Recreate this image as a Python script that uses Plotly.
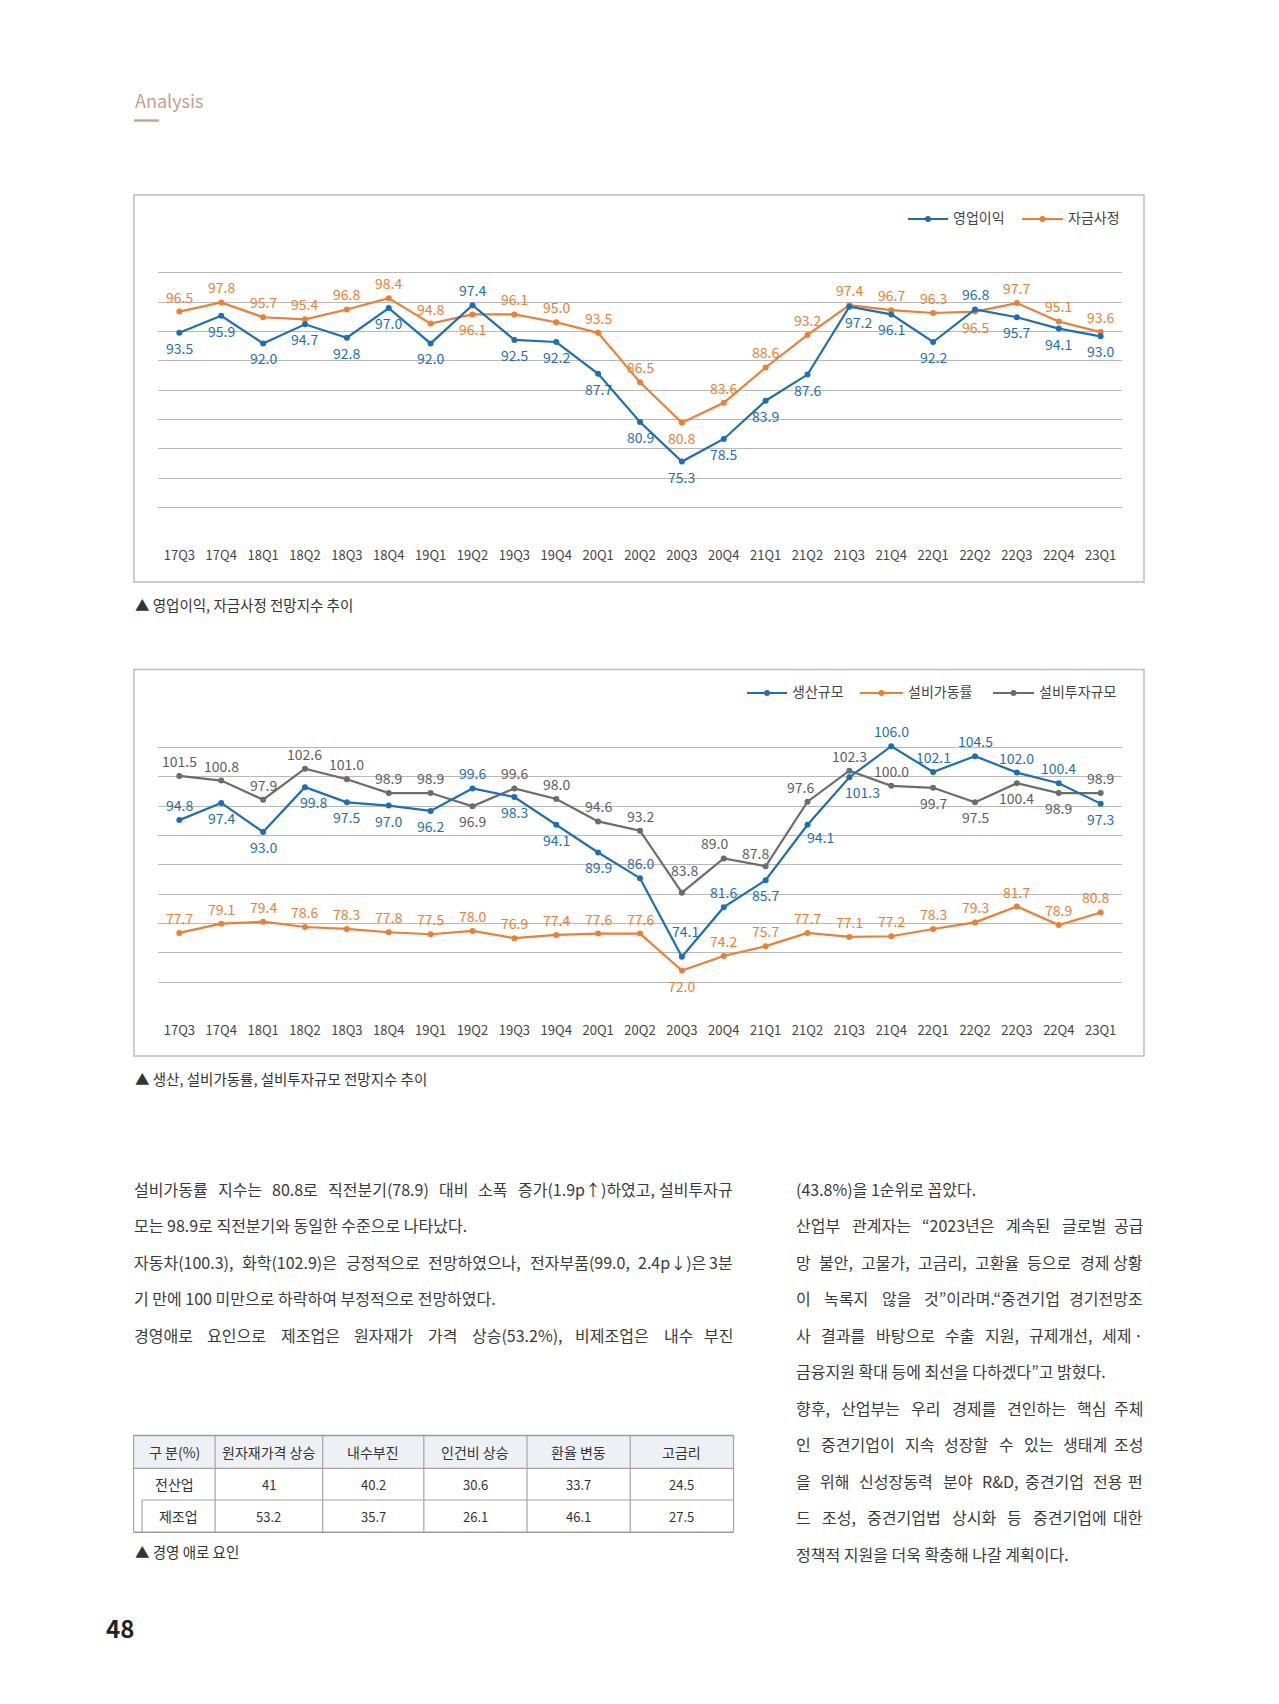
import plotly.graph_objects as go
import numpy as np

W, H = 1279, 1704
FONT = "Noto Sans CJK KR"

# ---------------- data ----------------
quarters = ["17Q3", "17Q4", "18Q1", "18Q2", "18Q3", "18Q4", "19Q1", "19Q2", "19Q3", "19Q4",
            "20Q1", "20Q2", "20Q3", "20Q4", "21Q1", "21Q2", "21Q3", "21Q4", "22Q1", "22Q2",
            "22Q3", "22Q4", "23Q1"]

op_profit = [93.5, 95.9, 92.0, 94.7, 92.8, 97.0, 92.0, 97.4, 92.5, 92.2, 87.7, 80.9, 75.3,
             78.5, 83.9, 87.6, 97.2, 96.1, 92.2, 96.8, 95.7, 94.1, 93.0]
funding = [96.5, 97.8, 95.7, 95.4, 96.8, 98.4, 94.8, 96.1, 96.1, 95.0, 93.5, 86.5, 80.8,
           83.6, 88.6, 93.2, 97.4, 96.7, 96.3, 96.5, 97.7, 95.1, 93.6]

production = [94.8, 97.4, 93.0, 99.8, 97.5, 97.0, 96.2, 99.6, 98.3, 94.1, 89.9, 86.0, 74.1,
              81.6, 85.7, 94.1, 101.3, 106.0, 102.1, 104.5, 102.0, 100.4, 97.3]
utilization = [77.7, 79.1, 79.4, 78.6, 78.3, 77.8, 77.5, 78.0, 76.9, 77.4, 77.6, 77.6, 72.0,
               74.2, 75.7, 77.7, 77.1, 77.2, 78.3, 79.3, 81.7, 78.9, 80.8]
investment = [101.5, 100.8, 97.9, 102.6, 101.0, 98.9, 98.9, 96.9, 99.6, 98.0, 94.6, 93.2, 83.8,
              89.0, 87.8, 97.6, 102.3, 100.0, 99.7, 97.5, 100.4, 98.9, 98.9]

chart1_names = ["영업이익", "자금사정"]
chart2_names = ["생산규모", "설비가동률", "설비투자규모"]

table_header = ["구 분(%)", "원자재가격 상승", "내수부진", "인건비 상승", "환율 변동", "고금리"]
table_row_names = ["전산업", "제조업"]
all_industry = [41, 40.2, 30.6, 33.7, 24.5]
manufacturing = [53.2, 35.7, 26.1, 46.1, 27.5]

caption1 = "▲ 영업이익, 자금사정 전망지수 추이"
caption2 = "▲ 생산, 설비가동률, 설비투자규모 전망지수 추이"
caption3 = "▲ 경영 애로 요인"

left_text = [
    ("설비가동률 지수는 80.8로 직전분기(78.9) 대비 소폭 증가(1.9p↑)하였고, 설비투자규", True),
    ("모는 98.9로 직전분기와 동일한 수준으로 나타났다.", False),
    ("자동차(100.3), 화학(102.9)은 긍정적으로 전망하였으나, 전자부품(99.0, 2.4p↓)은 3분", True),
    ("기 만에 100 미만으로 하락하여 부정적으로 전망하였다.", False),
    ("경영애로 요인으로 제조업은 원자재가 가격 상승(53.2%), 비제조업은 내수 부진", True),
]
right_text = [
    ("(43.8%)을 1순위로 꼽았다.", False),
    ("산업부 관계자는 “2023년은 계속된 글로벌 공급", True),
    ("망 불안, 고물가, 고금리, 고환율 등으로 경제 상황", True),
    ("이 녹록지 않을 것”이라며.“중견기업 경기전망조", True),
    ("사 결과를 바탕으로 수출 지원, 규제개선, 세제 ·", True),
    ("금융지원 확대 등에 최선을 다하겠다”고 밝혔다.", False),
    ("향후, 산업부는 우리 경제를 견인하는 핵심 주체", True),
    ("인 중견기업이 지속 성장할 수 있는 생태계 조성", True),
    ("을 위해 신성장동력 분야 R&D, 중견기업 전용 펀", True),
    ("드 조성, 중견기업법 상시화 등 중견기업에 대한", True),
    ("정책적 지원을 더욱 확충해 나갈 계획이다.", False),
]

# ---------------- style ----------------
BLUE = "#1c6fb7"
ORANGE = "#ee7e32"
GREY = "#6c6c6c"
GRID = "#b9b9b9"
BOX = "#bdbdbd"
TXT = "#3a3a3a"


def px(x):
    return x / W


def py(y):
    return 1 - y / H


fig = go.Figure()

# chart 1 traces
for vals, col in [(funding, ORANGE), (op_profit, BLUE)]:
    fig.add_trace(go.Scatter(x=quarters, y=vals, mode="lines+markers",
                             line=dict(color=col, width=2.2),
                             marker=dict(size=6, color=col),
                             xaxis="x", yaxis="y", showlegend=False, hoverinfo="skip"))
# chart 2 traces
for vals, col in [(investment, GREY), (utilization, ORANGE), (production, BLUE)]:
    fig.add_trace(go.Scatter(x=quarters, y=vals, mode="lines+markers",
                             line=dict(color=col, width=2.2),
                             marker=dict(size=6, color=col),
                             xaxis="x2", yaxis="y2", showlegend=False, hoverinfo="skip"))

ann = []
shapes = []

# ---------------- data labels ----------------
OFF = 15
ch1_pos = {
    "blue": "bbbbbbbabbbbbbbbbbbabbb",
    "orange": "aaaaaaabaaaabaaaaaabaaa",
}
ch2_pos = {
    "blue": "abbbbbbabbbaaabbbaaaaab",
    "orange": "aaaaaaaaaaaabaaaaaaaaaa",
    "grey": "aaaaaaabaaaaaaaaaabbbba",
}
ch1_exc = {("blue", 16): (9, OFF)}
ch2_exc = {("blue", 3): (9, OFF), ("blue", 12): (4, -26), ("blue", 15): (13, 12),
           ("blue", 16): (13, OFF), ("orange", 22): (-5, -OFF),
           ("grey", 12): (3, -23), ("grey", 13): (-9, -OFF), ("grey", 14): (-10, -13),
           ("grey", 15): (-7, -OFF)}


def add_labels(vals, key, col, pos, exc, xr, yr):
    for j, v in enumerate(vals):
        dy = -OFF if pos[key][j] == "a" else OFF
        dx = 0
        if (key, j) in exc:
            dx, dy = exc[(key, j)]
        ann.append(dict(x=quarters[j], y=v, xref=xr, yref=yr, text=f"{v:.1f}",
                        showarrow=False, xshift=dx, yshift=-dy,
                        font=dict(family=FONT, size=14, color=col)))


add_labels(op_profit, "blue", BLUE, ch1_pos, ch1_exc, "x", "y")
add_labels(funding, "orange", ORANGE, ch1_pos, ch1_exc, "x", "y")
add_labels(production, "blue", BLUE, ch2_pos, ch2_exc, "x2", "y2")
add_labels(utilization, "orange", ORANGE, ch2_pos, ch2_exc, "x2", "y2")
add_labels(investment, "grey", "#5e5e5e", ch2_pos, ch2_exc, "x2", "y2")

# ---------------- boxes ----------------
for (y0, y1) in [(195, 582), (669.5, 1056)]:
    shapes.append(dict(type="rect", xref="paper", yref="paper", x0=px(134), x1=px(1144),
                       y0=py(y0), y1=py(y1), line=dict(color=BOX, width=1.5)))


# ---------------- legends ----------------
def legend_item(x0, x1, y, col, text):
    shapes.append(dict(type="line", xref="paper", yref="paper", x0=px(x0), x1=px(x1),
                       y0=py(y), y1=py(y), line=dict(color=col, width=2)))
    cx = (x0 + x1) / 2
    shapes.append(dict(type="circle", xref="paper", yref="paper", x0=px(cx - 3), x1=px(cx + 3),
                       y0=py(y + 3), y1=py(y - 3), fillcolor=col, line=dict(width=0)))
    ann.append(dict(x=px(x1 + 3), y=py(y - 1.5), xref="paper", yref="paper", text=text, showarrow=False,
                    xanchor="left", yanchor="middle", font=dict(family=FONT, size=14, color="#444")))


legend_item(908, 948, 219.0, BLUE, chart1_names[0])
legend_item(1022, 1063, 219.0, ORANGE, chart1_names[1])
legend_item(747, 787, 693.0, BLUE, chart2_names[0])
legend_item(860, 903, 693.0, ORANGE, chart2_names[1])
legend_item(993, 1034, 693.0, GREY, chart2_names[2])


# ---------------- page text ----------------
def txt(x, y, s, size, color=TXT, anchor="left", bold=False):
    f = dict(family=FONT, size=size, color=color)
    if bold:
        s = "<b>" + s + "</b>"
    ann.append(dict(x=px(x), y=py(y), xref="paper", yref="paper", text=s, showarrow=False,
                    xanchor=anchor, yanchor="middle", font=f))


txt(133, 100, "Analysis", 18, color="#c49d8f")
shapes.append(dict(type="rect", xref="paper", yref="paper", x0=px(134), x1=px(159),
                   y0=py(121.7), y1=py(119.3), fillcolor="#c9a191", line=dict(width=0)))
txt(104, 1627, "48", 24, color="#222", bold=True)

txt(133, 604, caption1, 14.5, color="#333")
txt(133, 1078, caption2, 14.5, color="#333")
txt(133, 1551, caption3, 14.5, color="#333")


def char_em(c):
    o = ord(c)
    if 0xAC00 <= o <= 0xD7A3 or 0x3130 <= o <= 0x318F:
        return 0.92
    if c in "↑↓▲":
        return 0.92
    if c == " ":
        return 0.224
    if c.isdigit():
        return 0.553
    if c in ".,":
        return 0.276
    if c in "()":
        return 0.335
    if c == "%":
        return 0.85
    if c in "“”":
        return 0.42
    if c == "·":
        return 0.3
    return 0.6


def text_width(s, fs):
    return sum(char_em(c) for c in s) * fs


BODY = 16


def body_line(text, x0, x1, y, justify):
    if not justify:
        txt(x0, y, text, BODY)
        return
    words = text.split(" ")
    widths = [text_width(w, BODY) for w in words]
    gap = (x1 - x0 - sum(widths)) / (len(words) - 1)
    x = x0
    for i, w in enumerate(words):
        if i == len(words) - 1:
            txt(x1, y, w, BODY, anchor="right")
        else:
            txt(x, y, w, BODY)
        x += widths[i] + gap


for i, (line, j) in enumerate(left_text):
    body_line(line, 132, 735, 1188.5 + i * 36.5, j)
for i, (line, j) in enumerate(right_text):
    body_line(line, 794, 1145, 1188.5 + i * 36.5, j)

# ---------------- table ----------------
col_edges = [133.6, 215.1, 322.7, 423.8, 527.0, 630.2, 733.5]
row_edges = [1435.4, 1468.3, 1500.0, 1532.3]
TL = "#a4a4a4"
shapes.append(dict(type="rect", xref="paper", yref="paper", x0=px(col_edges[0]), x1=px(col_edges[-1]),
                   y0=py(row_edges[0]), y1=py(row_edges[1]), fillcolor="#edf1f5", line=dict(width=0),
                   layer="below"))


def hline(x0, x1, y, w=1.2, c=TL):
    shapes.append(dict(type="line", xref="paper", yref="paper", x0=px(x0), x1=px(x1), y0=py(y), y1=py(y),
                       line=dict(color=c, width=w)))


def vline(x, y0, y1, w=1.2, c=TL):
    shapes.append(dict(type="line", xref="paper", yref="paper", x0=px(x), x1=px(x), y0=py(y0), y1=py(y1),
                       line=dict(color=c, width=w)))


hline(col_edges[0], col_edges[-1], row_edges[0], 1.5, "#9a9a9a")
hline(col_edges[0], col_edges[-1], row_edges[1])
hline(142, col_edges[-1], row_edges[2])
hline(col_edges[0], col_edges[-1], row_edges[3], 1.5, "#9a9a9a")
for x in col_edges:
    vline(x, row_edges[0], row_edges[3])
vline(142, row_edges[2], row_edges[3])

TFS = 14
for k, h in enumerate(table_header):
    cx = (col_edges[k] + col_edges[k + 1]) / 2
    txt(cx, (row_edges[0] + row_edges[1]) / 2, h, TFS, color="#333", anchor="center")
txt((col_edges[0] + col_edges[1]) / 2, (row_edges[1] + row_edges[2]) / 2, table_row_names[0], TFS,
    color="#333", anchor="center")
txt((142 + col_edges[1]) / 2, (row_edges[2] + row_edges[3]) / 2, table_row_names[1], TFS,
    color="#333", anchor="center")
for r, vals in enumerate([all_industry, manufacturing]):
    for k, v in enumerate(vals):
        cx = (col_edges[k + 1] + col_edges[k + 2]) / 2
        txt(cx, (row_edges[r + 1] + row_edges[r + 2]) / 2, f"{v:g}", 13, color="#333", anchor="center")

# ---------------- axes ----------------
y1min, y1max = 64.64, 106.11
y2min, y2max = 65.80, 110.24
pad = 0.04


def yaxis_cfg(top, bot, lo, hi):
    return dict(domain=[py(bot), py(top)], range=[lo - pad, hi + pad],
                tickvals=list(np.linspace(lo, hi, 11)), showticklabels=False,
                showgrid=True, gridcolor=GRID, gridwidth=1.3, zeroline=False, showline=False,
                ticks="", fixedrange=True)


def xaxis_cfg(anchor):
    return dict(domain=[px(158.4), px(1121.6)], type="category", range=[-0.5, 22.5],
                anchor=anchor, showgrid=False, showline=False, zeroline=False, ticks="",
                tickfont=dict(family=FONT, size=13, color="#444"), ticklabelstandoff=9,
                fixedrange=True)


fig.update_layout(
    width=W, height=H, autosize=False,
    margin=dict(l=0, r=0, t=0, b=0),
    paper_bgcolor="white", plot_bgcolor="rgba(0,0,0,0)",
    xaxis=xaxis_cfg("y"), yaxis=yaxis_cfg(243.3, 537.3, y1min, y1max) | dict(anchor="x"),
    xaxis2=xaxis_cfg("y2"), yaxis2=yaxis_cfg(718.0, 1011.7, y2min, y2max) | dict(anchor="x2"),
    annotations=ann, shapes=shapes, showlegend=False,
    font=dict(family=FONT),
)

fig.write_html("out.html", config={"displayModeBar": False},
               post_script="document.body.style.margin='0';")
